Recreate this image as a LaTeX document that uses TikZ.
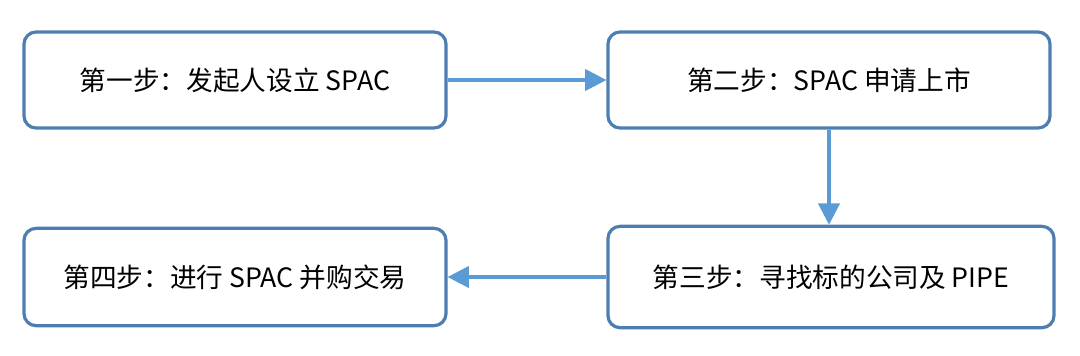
\documentclass[tikz,border=0pt]{standalone}
\usepackage{fontspec}
\setmainfont{Noto Sans CJK SC}
\usetikzlibrary{arrows.meta}
\definecolor{boxline}{HTML}{4E7DB1}
\definecolor{arrowline}{HTML}{5B9BD5}
\tikzset{
  stepbox/.style={draw=boxline, line width=2.4pt, rounded corners=9pt, fill=white,
    font=\fontsize{20}{24}\selectfont, inner sep=0pt},
  flow/.style={draw=arrowline, line width=2.4pt, -{Triangle[length=16pt, width=16pt]}}
}
\begin{document}
\begin{tikzpicture}[x=0.75pt, y=-0.75pt]
    \useasboundingbox (0,0) rectangle (1080,355);
    \node[stepbox, minimum width=316.5pt, minimum height=72pt] (s1) at (235,80) {第一步：发起人设立 SPAC};
    \node[stepbox, minimum width=331.5pt, minimum height=72pt] (s2) at (829,80) {第二步：SPAC 申请上市};
    \node[stepbox, minimum width=334.5pt, minimum height=76pt] (s3) at (831,277) {第三步：寻找标的公司及 PIPE};
    \node[stepbox, minimum width=316.5pt, minimum height=73pt] (s4) at (235,277) {第四步：进行 SPAC 并购交易};
    \draw[flow] (s1.east) -- (s2.west);
    \draw[flow] (s2.south) -- (s2.south |- s3.north);
    \draw[flow] (s3.west) -- (s4.east);
\end{tikzpicture}
\end{document}
